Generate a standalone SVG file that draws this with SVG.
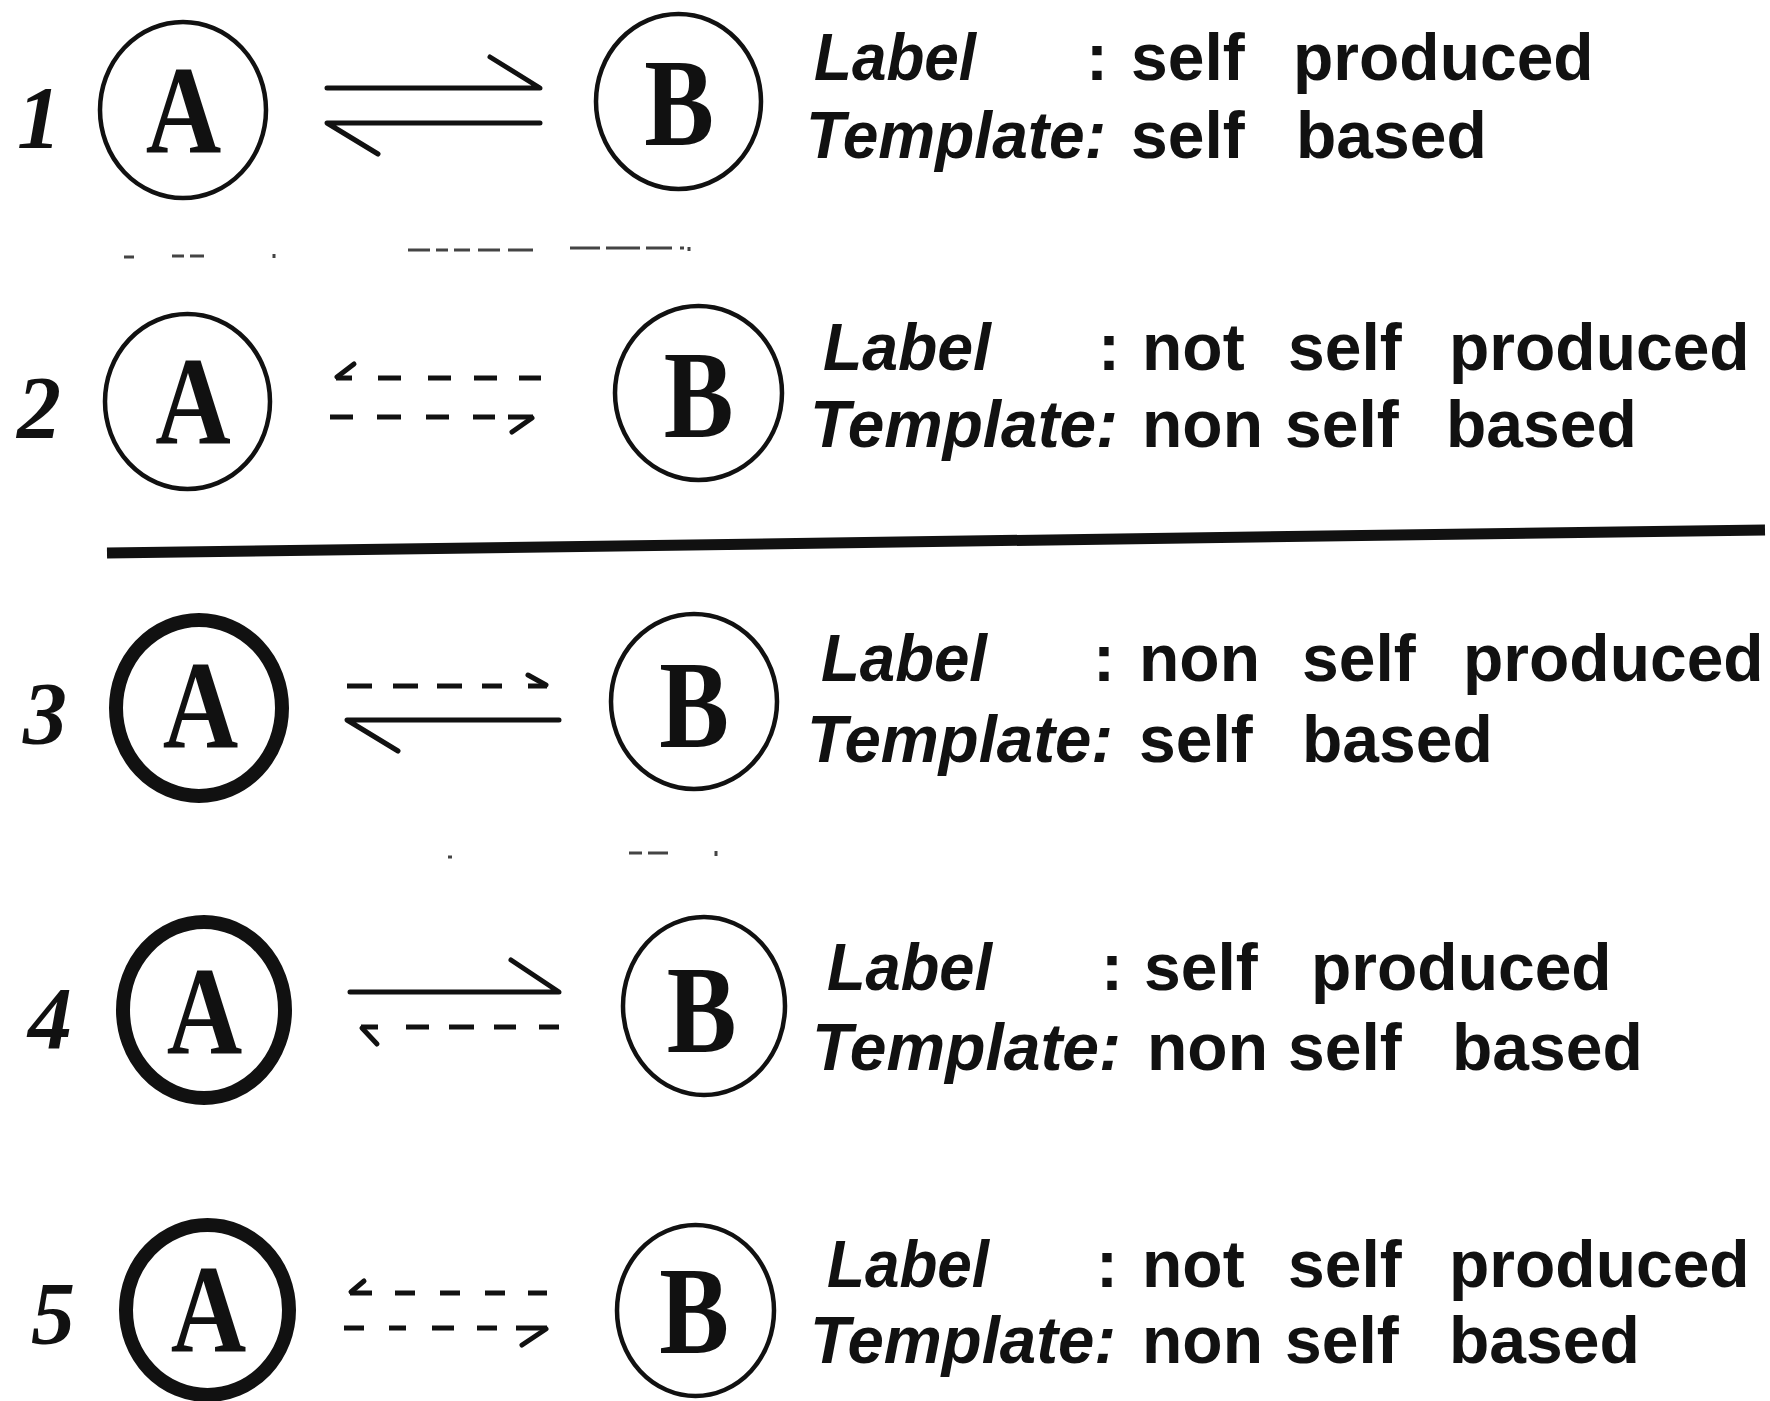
<svg xmlns="http://www.w3.org/2000/svg" width="1770" height="1401" viewBox="0 0 1770 1401">
<style>
.thin{fill:none;stroke:#111;stroke-width:4.5}
.thick{fill:none;stroke:#111;stroke-width:14}
.letter{font-family:"Liberation Serif","Times New Roman",serif;font-weight:bold;font-size:126px;fill:#111;text-anchor:middle}
.num{font-family:"Liberation Serif","Times New Roman",serif;font-style:italic;font-weight:bold;font-size:88px;fill:#111}
.lbl{font-family:"Liberation Sans",Arial,sans-serif;font-weight:bold;font-size:66px;fill:#111}
.it{font-style:italic}
.solid{fill:none;stroke:#111;stroke-width:5;stroke-linecap:round;stroke-linejoin:round}
.dash{fill:none;stroke:#111;stroke-width:5}
.rule{stroke:#111;stroke-width:11}
.spot{stroke:#444;stroke-width:3}
</style>
<rect width="1770" height="1401" fill="#fff"/>

<g id="numbers">
<text class="num" x="17" y="147">1</text>
<text class="num" x="17" y="437">2</text>
<text class="num" x="23" y="743">3</text>
<text class="num" x="28" y="1048">4</text>
<text class="num" x="31" y="1343">5</text>
</g>

<g id="r1-A"><ellipse class="thin" cx="183" cy="110" rx="83" ry="88"/><text class="letter" transform="translate(183.5,152) scale(0.83,1)">A</text></g>
<g id="r1-B"><ellipse class="thin" cx="678.5" cy="101.5" rx="82.5" ry="87.5"/><text class="letter" transform="translate(679,145) scale(0.83,1)">B</text></g>
<g id="r2-A"><ellipse class="thin" cx="187.5" cy="401.5" rx="82.5" ry="87.5"/><text class="letter" transform="translate(193,443) scale(0.83,1)">A</text></g>
<g id="r2-B"><ellipse class="thin" cx="698.5" cy="393" rx="83.5" ry="87"/><text class="letter" transform="translate(698.5,437) scale(0.83,1)">B</text></g>
<g id="r3-A"><ellipse class="thick" cx="199" cy="708" rx="83" ry="88"/><text class="letter" transform="translate(200.5,747) scale(0.83,1)">A</text></g>
<g id="r3-B"><ellipse class="thin" cx="694" cy="701.5" rx="83" ry="87.5"/><text class="letter" transform="translate(694,747) scale(0.83,1)">B</text></g>
<g id="r4-A"><ellipse class="thick" cx="204" cy="1010" rx="81" ry="88"/><text class="letter" transform="translate(204.5,1053) scale(0.83,1)">A</text></g>
<g id="r4-B"><ellipse class="thin" cx="704" cy="1006" rx="81" ry="89"/><text class="letter" transform="translate(701.5,1052) scale(0.83,1)">B</text></g>
<g id="r5-A"><ellipse class="thick" cx="207.5" cy="1310" rx="81.5" ry="85"/><text class="letter" transform="translate(208.5,1351) scale(0.83,1)">A</text></g>
<g id="r5-B"><ellipse class="thin" cx="695.5" cy="1310.5" rx="78.5" ry="85.5"/><text class="letter" transform="translate(694,1353) scale(0.83,1)">B</text></g>

<g id="connectors">
<path class="solid" d="M327 88H540L490 57"/>
<path class="solid" d="M540 123H327L378 154"/>

<path class="solid" d="M337 377L354 364"/>
<path class="dash" d="M336 378H352M378 378H401M428 378H451M474 378H497M519 378H541"/>
<path class="dash" d="M330 417H353M377 417H401M426 417H449M473 417H495M508 417H533"/>
<path class="solid" d="M532 418L512 432"/>

<path class="dash" d="M347 686H372M393 686H418M437 686H462M482 686H502M528 686H547"/>
<path class="solid" d="M546 685L528 675"/>
<path class="solid" d="M559 720H347L398 751"/>

<path class="solid" d="M350 992H559L511 960"/>
<path class="dash" d="M361 1027H378M406 1027H429M449 1027H474M494 1027H516M539 1027H559"/>
<path class="solid" d="M362 1028L377 1044"/>

<path class="dash" d="M350 1293H372M395 1293H415M440 1293H460M485 1293H505M528 1293H547"/>
<path class="solid" d="M351 1292L364 1281"/>
<path class="dash" d="M344 1328H364M389 1328H406M432 1328H454M477 1328H497M516 1328H547"/>
<path class="solid" d="M546 1329L522 1345"/>
</g>

<line class="rule" x1="107" y1="553" x2="1765" y2="530"/>

<path class="spot" d="M124 257H134M172 256H184M190 256H204M274 254V258M408 250H430M436 250H448M454 250H470M478 250H500M508 250H533M570 248H600M606 248H640M646 248H672M680 248H684M689 247V251M448 857H452M629 853H642M648 853H668M716 851V856"/>

<g id="text-1">
<text class="lbl"><tspan class="it" x="814" y="80" textLength="162" lengthAdjust="spacingAndGlyphs">Label</tspan><tspan x="1086">:</tspan><tspan x="1131">self</tspan><tspan x="1293">produced</tspan></text>
<text class="lbl"><tspan class="it" x="806" y="158" textLength="300" lengthAdjust="spacingAndGlyphs">Template:</tspan><tspan x="1131">self</tspan><tspan x="1296">based</tspan></text>
</g>
<g id="text-2">
<text class="lbl"><tspan class="it" x="823" y="370" textLength="168" lengthAdjust="spacingAndGlyphs">Label</tspan><tspan x="1098">:</tspan><tspan x="1142">not</tspan><tspan x="1288">self</tspan><tspan x="1449">produced</tspan></text>
<text class="lbl"><tspan class="it" x="810" y="447" textLength="308" lengthAdjust="spacingAndGlyphs">Template:</tspan><tspan x="1142">non</tspan><tspan x="1285">self</tspan><tspan x="1446">based</tspan></text>
</g>
<g id="text-3">
<text class="lbl"><tspan class="it" x="821" y="681" textLength="166" lengthAdjust="spacingAndGlyphs">Label</tspan><tspan x="1093">:</tspan><tspan x="1139">non</tspan><tspan x="1302">self</tspan><tspan x="1463">produced</tspan></text>
<text class="lbl"><tspan class="it" x="807" y="762" textLength="306" lengthAdjust="spacingAndGlyphs">Template:</tspan><tspan x="1139">self</tspan><tspan x="1302">based</tspan></text>
</g>
<g id="text-4">
<text class="lbl"><tspan class="it" x="827" y="990" textLength="165" lengthAdjust="spacingAndGlyphs">Label</tspan><tspan x="1101">:</tspan><tspan x="1144">self</tspan><tspan x="1311">produced</tspan></text>
<text class="lbl"><tspan class="it" x="812" y="1070" textLength="309" lengthAdjust="spacingAndGlyphs">Template:</tspan><tspan x="1147">non</tspan><tspan x="1288">self</tspan><tspan x="1452">based</tspan></text>
</g>
<g id="text-5">
<text class="lbl"><tspan class="it" x="827" y="1287" textLength="162" lengthAdjust="spacingAndGlyphs">Label</tspan><tspan x="1096">:</tspan><tspan x="1142">not</tspan><tspan x="1288">self</tspan><tspan x="1449">produced</tspan></text>
<text class="lbl"><tspan class="it" x="810" y="1363" textLength="306" lengthAdjust="spacingAndGlyphs">Template:</tspan><tspan x="1142">non</tspan><tspan x="1285">self</tspan><tspan x="1449">based</tspan></text>
</g>
</svg>
